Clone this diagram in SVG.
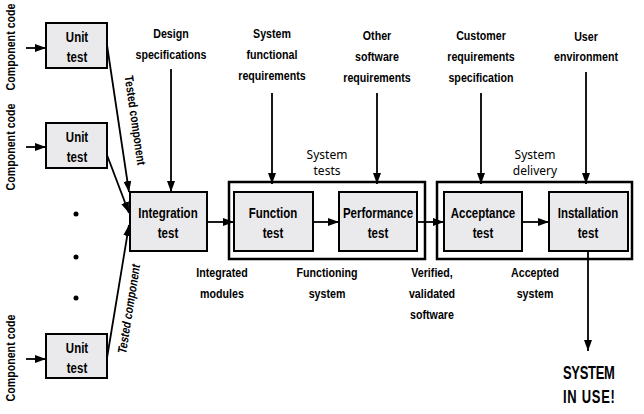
<svg xmlns="http://www.w3.org/2000/svg" width="644" height="414" viewBox="0 0 644 414">
<defs>
<style>
.bg{fill:#ffffff}
.box rect{fill:#eaeaec;stroke:#000;stroke-width:2}
.frame{fill:none;stroke:#000;stroke-width:2.5}
text{font-family:"Liberation Sans",Arial,sans-serif;font-weight:bold;font-size:13px;fill:#000;text-anchor:middle}
.bt{font-size:14px}
.hand{font-family:"Noto Sans","DejaVu Sans",sans-serif;font-weight:normal;font-size:12px}
.big{font-size:18px;text-anchor:start}
.conn line{stroke:#000;stroke-width:1.8;fill:none}
.arr{marker-end:url(#ah)}
</style>
<marker id="ah" viewBox="0 0 11 8" refX="11" refY="4" markerWidth="11" markerHeight="8" markerUnits="userSpaceOnUse" orient="auto">
<path d="M0,0 L11,4 L0,8 z" fill="#000"/>
</marker>
</defs>
<rect class="bg" x="0" y="0" width="644" height="414"/>

<g id="frame-system-tests">
<rect class="frame" x="229" y="182" width="196" height="77"/>
<text class="hand" x="327" y="159">System</text>
<text class="hand" x="327" y="175">tests</text>
</g>
<g id="frame-system-delivery">
<rect class="frame" x="437" y="182" width="195" height="77"/>
<text class="hand" x="535" y="159">System</text>
<text class="hand" x="535" y="175">delivery</text>
</g>

<g id="unit1" class="box"><rect x="46" y="23" width="61" height="45"/><text class="bt" transform="translate(77,42) scale(.82 1)">Unit</text><text class="bt" transform="translate(77,62) scale(.82 1)">test</text></g>
<g id="unit2" class="box"><rect x="46" y="123" width="61" height="45"/><text class="bt" transform="translate(77,142) scale(.82 1)">Unit</text><text class="bt" transform="translate(77,162) scale(.82 1)">test</text></g>
<g id="unit3" class="box"><rect x="46" y="334" width="61" height="44"/><text class="bt" transform="translate(77,353) scale(.82 1)">Unit</text><text class="bt" transform="translate(77,373) scale(.82 1)">test</text></g>
<g id="integration" class="box"><rect x="130" y="192" width="77" height="59"/><text class="bt" transform="translate(168,218) scale(.82 1)">Integration</text><text class="bt" transform="translate(168,238) scale(.82 1)">test</text></g>
<g id="function" class="box"><rect x="234" y="192" width="79" height="59"/><text class="bt" transform="translate(273,218) scale(.82 1)">Function</text><text class="bt" transform="translate(273,238) scale(.82 1)">test</text></g>
<g id="performance" class="box"><rect x="339" y="192" width="78" height="59"/><text class="bt" transform="translate(378,218) scale(.82 1)">Performance</text><text class="bt" transform="translate(378,238) scale(.82 1)">test</text></g>
<g id="acceptance" class="box"><rect x="444" y="192" width="78" height="59"/><text class="bt" transform="translate(483,218) scale(.82 1)">Acceptance</text><text class="bt" transform="translate(483,238) scale(.82 1)">test</text></g>
<g id="installation" class="box"><rect x="549" y="192" width="79" height="59"/><text class="bt" transform="translate(588,218) scale(.82 1)">Installation</text><text class="bt" transform="translate(588,238) scale(.82 1)">test</text></g>

<g id="connectors" class="conn">
<line class="arr" x1="26" y1="48" x2="46" y2="48"/>
<line class="arr" x1="26" y1="147" x2="46" y2="147"/>
<line class="arr" x1="26" y1="359" x2="46" y2="359"/>
<line class="arr" x1="107" y1="45" x2="129" y2="192"/>
<line class="arr" x1="107" y1="155" x2="129" y2="213"/>
<line class="arr" x1="107" y1="358" x2="129" y2="225"/>
<line class="arr" x1="171" y1="69" x2="171" y2="192"/>
<line class="arr" x1="272" y1="93" x2="272" y2="184"/>
<line class="arr" x1="377" y1="93" x2="377" y2="184"/>
<line class="arr" x1="481" y1="93" x2="481" y2="184"/>
<line class="arr" x1="586" y1="72" x2="586" y2="184"/>
<line class="arr" x1="207" y1="222" x2="234" y2="222"/>
<line class="arr" x1="313" y1="222" x2="339" y2="222"/>
<line class="arr" x1="417" y1="222" x2="444" y2="222"/>
<line class="arr" x1="522" y1="222" x2="549" y2="222"/>
<line class="arr" x1="588" y1="251" x2="588" y2="351"/>
</g>

<g id="labels">
<text transform="translate(15,47) rotate(-90) scale(.82 1)">Component code</text>
<text transform="translate(15,147) rotate(-90) scale(.82 1)">Component code</text>
<text transform="translate(15,358) rotate(-90) scale(.82 1)">Component code</text>
<text transform="translate(131,121) rotate(81.8) scale(.82 1)" style="font-size:12.5px">Tested component</text>
<text transform="translate(133,310) rotate(-81) scale(.82 1) skewX(-10)" style="font-size:12.5px">Tested component</text>
<circle cx="76" cy="214" r="2.5" fill="#000"/>
<circle cx="76" cy="257" r="2.5" fill="#000"/>
<circle cx="76" cy="298" r="2.5" fill="#000"/>
<text transform="translate(171,38) scale(.82 1)">Design</text><text transform="translate(171,59) scale(.82 1)">specifications</text>
<text transform="translate(272,38) scale(.82 1)">System</text><text transform="translate(272,59) scale(.82 1)">functional</text><text transform="translate(272,80) scale(.82 1)">requirements</text>
<text transform="translate(377,40) scale(.82 1)">Other</text><text transform="translate(377,61) scale(.82 1)">software</text><text transform="translate(377,82) scale(.82 1)">requirements</text>
<text transform="translate(481,40) scale(.82 1)">Customer</text><text transform="translate(481,61) scale(.82 1)">requirements</text><text transform="translate(481,82) scale(.82 1)">specification</text>
<text transform="translate(586,41) scale(.82 1)">User</text><text transform="translate(586,61) scale(.82 1)">environment</text>
<text transform="translate(222,277) scale(.82 1)">Integrated</text><text transform="translate(222,298) scale(.82 1)">modules</text>
<text transform="translate(327,277) scale(.82 1)">Functioning</text><text transform="translate(327,298) scale(.82 1)">system</text>
<text transform="translate(432,277) scale(.82 1)">Verified,</text><text transform="translate(432,298) scale(.82 1)">validated</text><text transform="translate(432,319) scale(.82 1)">software</text>
<text transform="translate(535,277) scale(.82 1)">Accepted</text><text transform="translate(535,298) scale(.82 1)">system</text>
<text class="big" transform="translate(563,379) scale(.72 1)" textLength="72" lengthAdjust="spacing">SYSTEM</text><text class="big" transform="translate(563,403) scale(.72 1)" textLength="72" lengthAdjust="spacing">IN USE!</text>
</g>
</svg>
